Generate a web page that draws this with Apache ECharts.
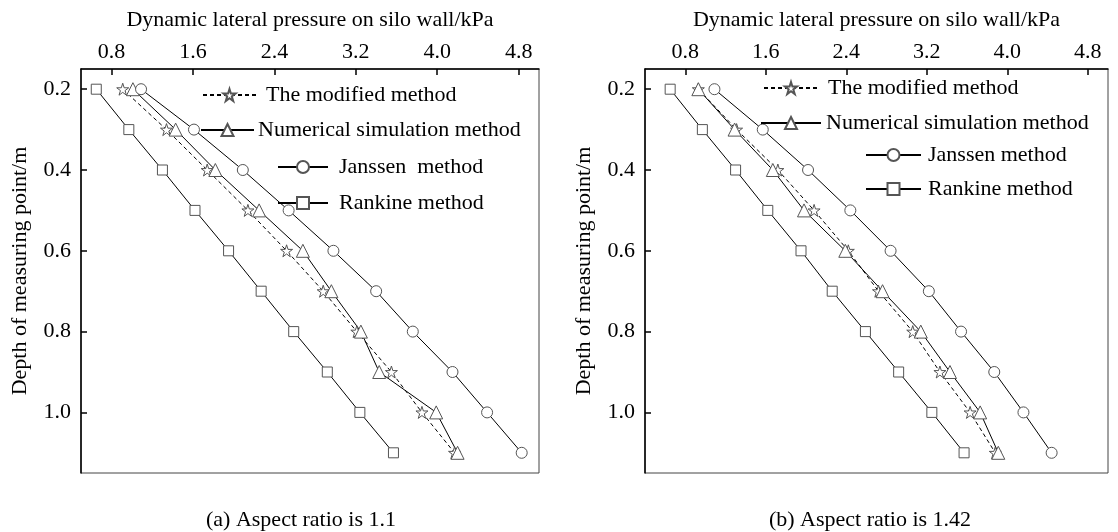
<!DOCTYPE html>
<html><head><meta charset="utf-8">
<script src="https://cdn.jsdelivr.net/npm/echarts@6/dist/echarts.min.js"></script>
<style>html,body{margin:0;padding:0;background:#fff}#c{width:1118px;height:532px}</style>
</head><body><div id="c"></div>
<script>
const depths = [0.2, 0.3, 0.4, 0.5, 0.6, 0.7, 0.8, 0.9, 1.0, 1.1];
const xTicks = [0.8, 1.6, 2.4, 3.2, 4.0, 4.8];
const yTicks = [0.2, 0.4, 0.6, 0.8, 1.0];
const xAxisName = 'Dynamic lateral pressure on silo wall/kPa';
const yAxisName = 'Depth of measuring point/m';
const captions = ['(a) Aspect ratio is 1.1', '(b) Aspect ratio is 1.42'];
const namesA = ['The modified method', 'Numerical simulation method', 'Janssen  method', 'Rankine method'];
const namesB = ['The modified method', 'Numerical simulation method', 'Janssen method', 'Rankine method'];
// (a) aspect ratio 1.1
const modifiedA  = [0.91, 1.34, 1.74, 2.14, 2.52, 2.88, 3.21, 3.55, 3.85, 4.17];
const numericalA = [1.01, 1.43, 1.82, 2.25, 2.68, 2.96, 3.25, 3.43, 3.99, 4.20];
const janssenA   = [1.09, 1.61, 2.09, 2.54, 2.98, 3.40, 3.76, 4.15, 4.49, 4.83];
const rankineA   = [0.65, 0.97, 1.30, 1.62, 1.95, 2.27, 2.59, 2.92, 3.24, 3.57];
// (b) aspect ratio 1.42
const modifiedB  = [0.93, 1.31, 1.72, 2.08, 2.42, 2.72, 3.06, 3.33, 3.63, 3.88];
const numericalB = [0.93, 1.29, 1.67, 1.98, 2.39, 2.76, 3.14, 3.43, 3.73, 3.91];
const janssenB   = [1.09, 1.57, 2.02, 2.44, 2.84, 3.22, 3.54, 3.87, 4.16, 4.44];
const rankineB   = [0.65, 0.97, 1.30, 1.62, 1.95, 2.26, 2.59, 2.92, 3.25, 3.57];

const F = '"Liberation Serif", "Times New Roman", serif';
const STAR = 'path://M100,0 L122.5,69.1 L195.1,69.1 L136.3,111.8 L158.8,180.9 L100,138.2 L41.2,180.9 L63.7,111.8 L4.9,69.1 L77.5,69.1 Z';
const fmt = v => Number(v).toFixed(1);
const pts = vals => depths.map((d, i) => [vals[i], d]);

function series(name, vals, gi, symbol, size, dashed) {
  return {
    type: 'line', name, xAxisIndex: gi, yAxisIndex: gi, data: pts(vals),
    symbol, symbolSize: size, showAllSymbol: true, animation: false,
    lineStyle: {color: '#000', width: 1, type: dashed ? [4, 3] : 'solid'},
    itemStyle: {color: '#fff', borderColor: '#555', borderWidth: 1},
    emphasis: {disabled: true}
  };
}
function xAx(gi, min, max) {
  return {
    gridIndex: gi, type: 'value', position: 'top', min, max,
    name: xAxisName, nameLocation: 'middle', nameGap: 38,
    nameTextStyle: {fontFamily: F, fontSize: 22, color: '#000'},
    axisLine: {show: true, onZero: false, lineStyle: {color: '#000', width: 1.5}},
    axisTick: {show: true, inside: true, length: 6, customValues: xTicks, lineStyle: {color: '#000', width: 1.5}},
    axisLabel: {customValues: xTicks, formatter: fmt, fontFamily: F, fontSize: 22, color: '#000', margin: 6},
    splitLine: {show: false}
  };
}
function yAx(gi) {
  return {
    gridIndex: gi, type: 'value', inverse: true, min: 0.15, max: 1.15,
    name: yAxisName, nameLocation: 'middle', nameGap: 50,
    nameTextStyle: {fontFamily: F, fontSize: 22, color: '#000'},
    axisLine: {show: true, onZero: false, lineStyle: {color: '#000', width: 1.5}},
    axisTick: {show: true, inside: true, length: 6, customValues: yTicks, lineStyle: {color: '#000', width: 1.5}},
    axisLabel: {customValues: yTicks, formatter: fmt, fontFamily: F, fontSize: 22, color: '#000', margin: 10},
    splitLine: {show: false}
  };
}
function leg(name, left, cy, w, gap) {
  return {
    data: [name], left, top: cy - 11, padding: 0, itemWidth: w, itemHeight: 15, itemGap: 0,
    selectedMode: false,
    textStyle: {fontFamily: F, fontSize: 22, color: '#000', lineHeight: 22, padding: [0, 0, 0, gap - 5]}
  };
}

const option = {
  backgroundColor: '#fff',
  animation: false,
  grid: [
    {left: 81, top: 69, width: 458, height: 404, show: true, borderColor: '#444', borderWidth: 1},
    {left: 645, top: 69, width: 463, height: 404, show: true, borderColor: '#444', borderWidth: 1}
  ],
  xAxis: [xAx(0, 0.5, 5.0), xAx(1, 0.4, 5.0)],
  yAxis: [yAx(0), yAx(1)],
  legend: [
    leg(namesA[0], 202, 95, 53, 10),
    leg(namesA[1], 200, 130, 53, 4),
    leg(namesA[2], 277, 167, 50, 11),
    leg(namesA[3], 277, 203, 50, 11),
    leg(namesB[0], 763, 88, 54, 10),
    leg(namesB[1], 760, 123, 60, 5),
    leg(namesB[2], 865, 155, 55, 7),
    leg(namesB[3], 865, 189, 55, 7)
  ],
  series: [
    series(namesA[3], rankineA, 0, 'rect', 10, false),
    series(namesA[0], modifiedA, 0, STAR, 12, true),
    series(namesA[1], numericalA, 0, 'triangle', 13, false),
    series(namesA[2], janssenA, 0, 'circle', 11, false),
    series(namesB[3], rankineB, 1, 'rect', 10, false),
    series(namesB[0], modifiedB, 1, STAR, 12, true),
    series(namesB[1], numericalB, 1, 'triangle', 13, false),
    series(namesB[2], janssenB, 1, 'circle', 11, false)
  ],
  graphic: [
    {type: 'text', x: 301, y: 520, style: {text: captions[0], textAlign: 'center', textVerticalAlign: 'middle', font: '22px ' + F, fill: '#000'}},
    {type: 'text', x: 870, y: 520, style: {text: captions[1], textAlign: 'center', textVerticalAlign: 'middle', font: '22px ' + F, fill: '#000'}}
  ]
};
const chart = echarts.init(document.getElementById('c'), null, {renderer: 'canvas'});
chart.setOption(option);
</script>
</body></html>
